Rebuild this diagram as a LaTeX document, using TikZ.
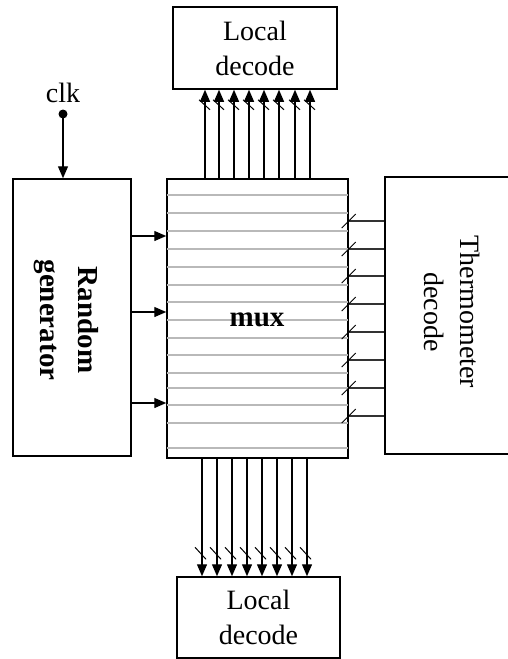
\documentclass[tikz,border=0pt]{standalone}
\usepackage{fontspec}
\setmainfont{Liberation Serif}
\usetikzlibrary{positioning, arrows.meta}

\begin{document}
\begin{tikzpicture}[
        x=1pt, y=-1pt,
        blk/.style={rectangle, draw, line width=1.5pt, inner sep=0pt, align=center, font=\fontsize{28}{35}\selectfont},
        txt/.style={inner sep=0pt, align=center, font=\fontsize{28}{36}\selectfont},
        sig/.style={line width=1.3pt, -{Triangle[length=12pt, width=10pt]}},
        bus/.style={line width=1.1pt, draw=black!80},
        tick/.style={line width=1pt},
        row/.style={draw=gray!55, line width=1.6pt, shorten <=0.8pt, shorten >=0.8pt},
    ]
        \useasboundingbox (0,0) rectangle (508,659);

        % Blocks
        \node[blk, minimum width=181pt, minimum height=279pt] (mux) at (257.5,318.5) {};
        \node[blk, minimum width=164pt, minimum height=82pt] (top) at (255,48) {Local\\decode};
        \node[blk, minimum width=163pt, minimum height=81pt] (bot) at (258.5,617.5) {Local\\decode};
        \node[blk, minimum width=118pt, minimum height=277pt] (rand) at (72,317.5) {};
        \node[blk, minimum width=134pt, minimum height=277pt] (thermo) at (452,315.5) {};

        % Rows of the mux
        \foreach \y in {195,213,231,249,267,285,302,320,338,355,373,388,405,423,448}
            \draw[row] (mux.west |- 0,\y) -- (mux.east |- 0,\y);

        % Labels
        \node[txt, font=\fontsize{29}{36}\selectfont\bfseries] (muxtxt) at (257,320) {mux};
        \node[txt, rotate=-90, font=\fontsize{29}{38}\selectfont\bfseries] (randtxt) at (66,320) {Random\\generator};
        \node[txt, rotate=-90] (thermotxt) at (452,312) {Thermometer\\decode};
        \node[txt] (clk) at (63,93) {clk};

        % Clock
        \coordinate (clkpin) at (63,114);
        \fill (clkpin) circle (4.5pt);
        \draw[sig] (clkpin) -- (clkpin |- rand.north);

        % Random generator to mux
        \foreach \y in {236,312,403}
            \draw[sig] (rand.east |- 0,\y) -- (mux.west |- 0,\y);

        % Thermometer decode to mux
        \foreach \y in {221,249,276,304,332,360,388,416} {
            \draw[bus] (thermo.west |- 0,\y) -- (mux.east |- 0,\y);
            \draw[tick] (mux.east |- 0,\y) ++(-7,7) -- ++(14,-14);
        }

        % Mux to local decode
        \foreach \x in {205,219,234,249,264,279,295,310} {
            \draw[sig] (\x,0 |- mux.north) -- (\x,0 |- top.south);
            \draw[tick] (\x,0 |- top.south) ++(-6,10) -- ++(11,10);
        }
        \foreach \x in {202,217,232,247,262,277,292,307} {
            \draw[sig] (\x,0 |- mux.south) -- (\x,0 |- bot.north);
            \draw[tick] (\x,0 |- bot.north) ++(-7,-29) -- ++(11,12);
        }

    \end{tikzpicture}
\end{document}
